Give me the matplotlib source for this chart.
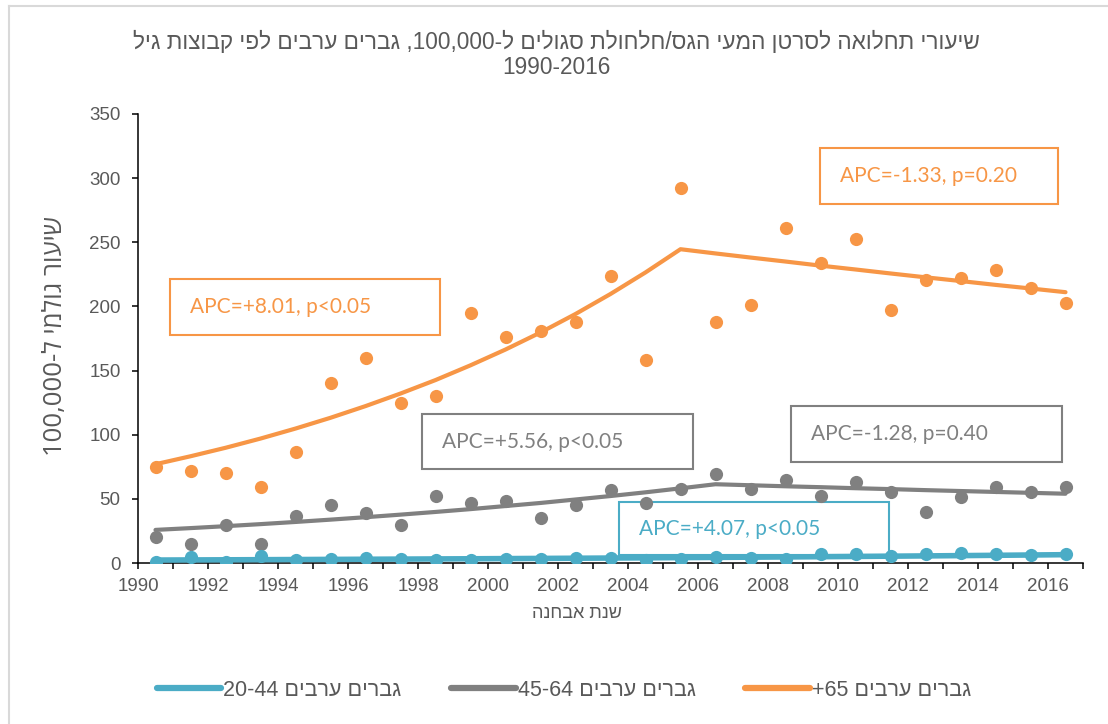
import re
import numpy as np
import matplotlib
matplotlib.use('Agg')
import matplotlib.pyplot as plt
from matplotlib.lines import Line2D
from matplotlib.patches import Rectangle

# ---- data ----
years = list(range(1990, 2017))

rate_65 = [75, 72, 70, 59.5, 86.5, 140, 160, 125, 130, 195, 176.5, 180.5, 188, 223.5,
           158, 292.5, 188, 201, 261.5, 233.5, 252.5, 197, 220.5, 222.5, 228.5, 214, 203]
rate_45_64 = [20, 14.5, 29.5, 15, 36.5, 45, 39, 29.5, 52, 47, 48, 35, 45, 57, 47, 58,
              69, 57.5, 64.5, 52.5, 63, 55.5, 39.5, 51.5, 59.5, 55.5, 59]
rate_20_44 = [1, 5, 1, 5.5, 2.5, 3.3, 4, 2.8, 2.5, 2.5, 3.3, 2.8, 3.6, 3.6, 2.3, 3.3,
              4.8, 4.2, 3.3, 6.9, 7.4, 5.6, 7.4, 8, 6.9, 6.6, 6.9]

# joinpoint fitted values
fit_65 = [77, 83.2, 89.8, 97.0, 104.8, 113.2, 122.3, 132.1, 142.6, 154.1, 166.4, 179.7,
          194.1, 209.7, 226.5, 244.6, 241.3, 238.1, 235.0, 231.8, 228.8, 225.7, 222.7,
          219.8, 216.8, 214.0, 211.1]
fit_45_64 = [25.8, 27.2, 28.7, 30.3, 32.0, 33.8, 35.7, 37.7, 39.8, 42.0, 44.4, 46.8, 49.5,
             52.2, 55.1, 58.2, 61.4, 60.6, 59.8, 59.1, 58.3, 57.6, 56.8, 56.1, 55.4, 54.7, 54.0]
fit_20_44 = [2.3, 2.39, 2.49, 2.59, 2.70, 2.81, 2.92, 3.04, 3.17, 3.29, 3.43, 3.57, 3.71,
             3.86, 4.02, 4.19, 4.36, 4.53, 4.72, 4.91, 5.11, 5.32, 5.53, 5.76, 5.99, 6.24, 6.49]

series_labels = ['גברים ערבים 20-44', 'גברים ערבים 45-64', 'גברים ערבים 65+']
apc_texts = ['APC=+8.01, p<0.05', 'APC=-1.33, p=0.20', 'APC=+5.56, p<0.05',
             'APC=-1.28, p=0.40', 'APC=+4.07, p<0.05']
title = 'שיעורי תחלואה לסרטן המעי הגס/חלחולת סגולים ל-100,000, גברים ערבים לפי קבוצות גיל'
title_years = '1990-2016'
ylabel = 'שיעור גולמי ל-100,000'
xlabel = 'שנת אבחנה'

ORANGE = '#F79646'
GRAY = '#808080'
BLUE = '#4BACC6'
TEXT = '#595959'
FONTS = ['Liberation Sans', 'DejaVu Sans']


def vis(s):
    # crude logical -> visual order for Hebrew text with embedded numbers
    r = s[::-1]
    return re.sub(r'\d[\d,.\-]*\d|\d', lambda m: m.group(0)[::-1], r)


plt.rcParams['font.family'] = FONTS

fig = plt.figure(figsize=(11.08, 7.24), dpi=100)
ax = fig.add_axes([138 / 1108, 1 - 563 / 724, (1083 - 138) / 1108, (563 - 114) / 724])

x = np.array(years) + 0.5  # points sit mid-year

ax.plot(x, fit_65, color=ORANGE, lw=3, zorder=3, solid_capstyle='round')
ax.plot(x, fit_45_64, color=GRAY, lw=3, zorder=3, solid_capstyle='round')
ax.plot(x, fit_20_44, color=BLUE, lw=4, zorder=3, solid_capstyle='round')
ax.plot(x, rate_65, 'o', color=ORANGE, ms=9.5, mec='none', zorder=4)
ax.plot(x, rate_45_64, 'o', color=GRAY, ms=9.5, mec='none', zorder=4)
ax.plot(x, rate_20_44, 'o', color=BLUE, ms=9.5, mec='none', zorder=5)

ax.set_xlim(1990, 2017)
ax.set_ylim(0, 350)
ax.set_xticks(range(1990, 2018, 2))
ax.set_xticks(range(1990, 2018), minor=True)
ax.set_yticks(range(0, 351, 50))
for s in ['top', 'right']:
    ax.spines[s].set_visible(False)
for s in ['left', 'bottom']:
    ax.spines[s].set_linewidth(1.1)
    ax.spines[s].set_color('black')
ax.tick_params(axis='both', which='both', direction='out', length=4.5, width=1.1,
               colors='black', labelcolor=TEXT, labelsize=13.5)
ax.tick_params(axis='x', pad=6)
ax.tick_params(axis='y', pad=8)

# APC boxes: (x0, x1, y0, y1) in data units
boxes = [
    (1990.91, 1998.63, 177.7, 221.4, ORANGE),
    (2009.49, 2016.29, 279.8, 323.5, ORANGE),
    (1998.11, 2005.86, 73.3, 116.1, GRAY),
    (2008.66, 2016.40, 78.7, 122.4, GRAY),
    (2003.74, 2011.46, 6.2, 47.5, BLUE),
]
for (x0, x1, y0, y1, c), t in zip(boxes, apc_texts):
    ax.add_patch(Rectangle((x0, y0), x1 - x0, y1 - y0, fill=False, ec=c, lw=1.5,
                           zorder=2, clip_on=False))
    ax.text(x0 + 0.57, (y0 + y1) / 2, t, color=c, fontsize=15, family=['Lato', 'DejaVu Sans'],
            ha='left', va='center', zorder=2)

fig.text(556 / 1108, 1 - 42 / 724, vis(title), ha='center', va='center', color=TEXT, fontsize=16.3)
fig.text(556 / 1108, 1 - 68 / 724, title_years, ha='center', va='center', color=TEXT, fontsize=16.3)
fig.text(56 / 1108, 1 - 336 / 724, vis(ylabel), rotation=90, ha='center', va='center',
         color=TEXT, fontsize=18.5, family=['Open Sans', 'DejaVu Sans'])
fig.text(577 / 1108, 1 - 614 / 724, vis(xlabel), ha='center', va='center', color=TEXT, fontsize=13)

handles = [Line2D([], [], color=c, lw=4.5, solid_capstyle='round') for c in (BLUE, GRAY, ORANGE)]
fig.legend(handles, [vis(l) for l in series_labels], loc='center', ncol=3,
           bbox_to_anchor=(564 / 1108, 1 - 690 / 724), frameon=False, fontsize=15.5,
           handlelength=3.0, handletextpad=0.1, columnspacing=2.3, labelcolor=TEXT)

# chart area border (left and top only visible)
fig.add_artist(Line2D([9 / 1108, 9 / 1108], [0, 1 - 6 / 724], color='#D9D9D9', lw=1.5,
                      transform=fig.transFigure))
fig.add_artist(Line2D([9 / 1108, 1], [1 - 6 / 724, 1 - 6 / 724], color='#D9D9D9', lw=1.5,
                      transform=fig.transFigure))

fig.savefig('out.png', dpi=100)
